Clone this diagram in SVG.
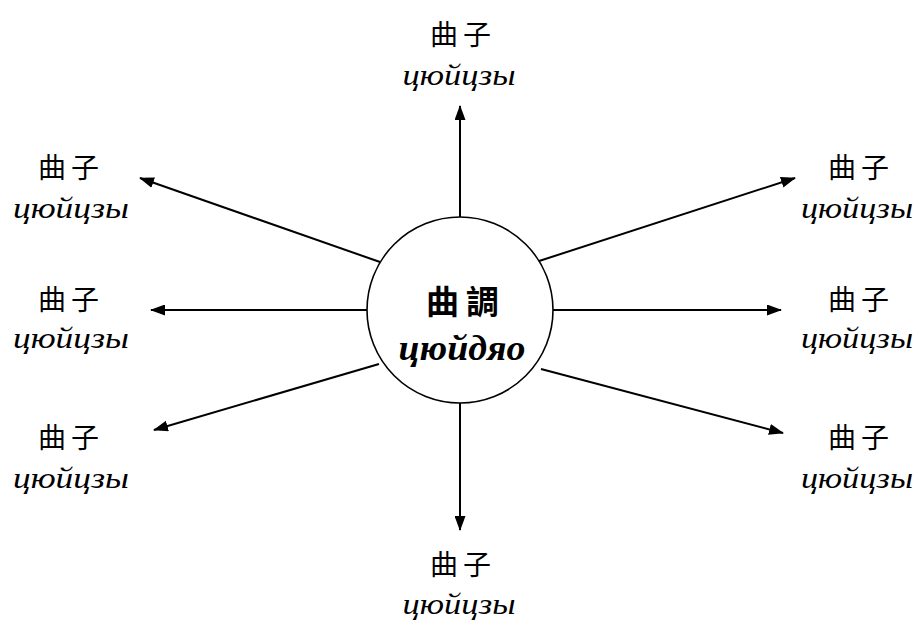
<svg xmlns="http://www.w3.org/2000/svg" width="915" height="621" viewBox="0 0 915 621">
<style>
.cjk{font-family:"Liberation Serif","Noto Sans CJK TC",serif;font-size:28px;letter-spacing:5px;fill:#000;text-anchor:middle}
.lat{font-family:"Liberation Serif",serif;font-style:italic;font-size:30px;fill:#000;text-anchor:middle}
.edge{stroke:#000;stroke-width:2;fill:none;marker-end:url(#ah)}
</style>
<defs>
<marker id="ah" viewBox="0 0 15 11" refX="14" refY="5.5" markerWidth="15" markerHeight="11" markerUnits="userSpaceOnUse" orient="auto">
<path d="M0,0 L15,5.5 L0,11 z" fill="#000"/>
</marker>
</defs>
<rect width="915" height="621" fill="#fff"/>
<g id="connectors">
<line class="edge" x1="460" y1="217" x2="460" y2="106"/>
<line class="edge" x1="460" y1="403" x2="460" y2="530"/>
<line class="edge" x1="367" y1="310" x2="151" y2="310"/>
<line class="edge" x1="553" y1="310" x2="781" y2="310"/>
<line class="edge" x1="380" y1="262" x2="140" y2="178"/>
<line class="edge" x1="536" y1="262" x2="795" y2="178"/>
<line class="edge" x1="379" y1="364" x2="154" y2="430"/>
<line class="edge" x1="541" y1="369" x2="783" y2="433"/>
</g>
<g id="center">
<circle cx="460" cy="310" r="93" fill="#fff" stroke="#000" stroke-width="1.6"/>
<text x="466" y="314" class="cjk" style="font-size:33px;font-weight:bold;letter-spacing:7px">曲調</text>
<text x="462" y="360" class="lat" style="font-size:35px;font-weight:bold" textLength="127" lengthAdjust="spacingAndGlyphs">цюйдяо</text>
</g>
<g id="n-top"><text x="463" y="45" class="cjk">曲子</text><text x="459" y="85" class="lat" textLength="113" lengthAdjust="spacingAndGlyphs">цюйцзы</text></g>
<g id="n-bottom"><text x="463" y="575" class="cjk">曲子</text><text x="459" y="614" class="lat" textLength="113" lengthAdjust="spacingAndGlyphs">цюйцзы</text></g>
<g id="n-ul"><text x="71" y="178" class="cjk">曲子</text><text x="71" y="218" class="lat" textLength="116" lengthAdjust="spacingAndGlyphs">цюйцзы</text></g>
<g id="n-ml"><text x="71" y="310" class="cjk">曲子</text><text x="71" y="348" class="lat" textLength="116" lengthAdjust="spacingAndGlyphs">цюйцзы</text></g>
<g id="n-ll"><text x="71" y="448" class="cjk">曲子</text><text x="71" y="488" class="lat" textLength="116" lengthAdjust="spacingAndGlyphs">цюйцзы</text></g>
<g id="n-ur"><text x="861" y="178" class="cjk">曲子</text><text x="857" y="218" class="lat" textLength="112" lengthAdjust="spacingAndGlyphs">цюйцзы</text></g>
<g id="n-mr"><text x="861" y="310" class="cjk">曲子</text><text x="857" y="348" class="lat" textLength="112" lengthAdjust="spacingAndGlyphs">цюйцзы</text></g>
<g id="n-lr"><text x="861" y="448" class="cjk">曲子</text><text x="857" y="488" class="lat" textLength="112" lengthAdjust="spacingAndGlyphs">цюйцзы</text></g>
</svg>
